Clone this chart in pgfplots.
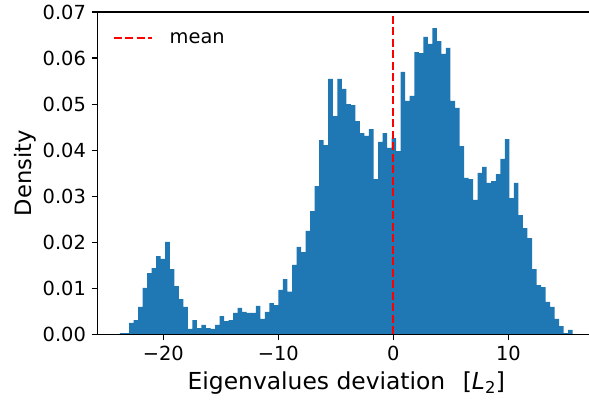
\documentclass[border=0pt]{standalone}
\usepackage{fontspec}
\setmainfont{DejaVu Sans}
\usepackage{pgfplots}
\pgfplotsset{compat=1.18}
\definecolor{mplblue}{HTML}{1F77B4}
\begin{document}
\begin{tikzpicture}
\begin{axis}[
  name=ax,
  at={(0,0)}, anchor=south west,
  scale only axis,
  width=498.1pt, height=322.5pt,
  xmin=-25.74, xmax=17.57, ymin=0, ymax=0.07,
  scaled y ticks=false, scaled x ticks=false,
  axis on top,
  axis line style={line width=1.2pt},
  every tick/.style={black, line width=1.2pt},
  tick align=outside,
  xtick pos=bottom, ytick pos=left,
  major tick length=5.6pt,
  xtick={-20,-10,0,10},
  xticklabels={−20,−10,0,10},
  ytick={0,0.01,0.02,0.03,0.04,0.05,0.06,0.07},
  yticklabels={0.00,0.01,0.02,0.03,0.04,0.05,0.06,0.07},
  tick label style={font=\fontsize{19.4}{23}\selectfont},
  xticklabel style={inner sep=0pt, anchor=north, yshift=-5.6pt},
  yticklabel style={inner sep=0pt, anchor=east, xshift=-5.6pt},
  xlabel={Eigenvalues deviation\hspace{0.75em}[{\itshape L}\textsubscript{2}]},
  ylabel={Density},
  every axis x label/.style={at={(rel axis cs:0.5,0)}, anchor=base, yshift=-55.5pt, font=\fontsize{23.4}{27}\selectfont},
  every axis y label/.style={at={(rel axis cs:0,0.5)}, xshift=-66pt, rotate=90, anchor=base, font=\fontsize{22.6}{27}\selectfont},
  legend style={draw=none, fill=none, at={(rel axis cs:0,1)}, anchor=north west, xshift=12pt, yshift=-16pt, column sep=15pt, font=\fontsize{19.4}{23}\selectfont},
  legend image code/.code={\draw[#1] (0pt,0pt) -- (38pt,0pt);},
  legend cell align=left,
]
\addplot[ybar interval, fill=mplblue, draw=none, forget plot] coordinates {
(-23.770,0.0003) (-23.376,0.0003) (-22.983,0.0025) (-22.589,0.0031) (-22.195,0.0060)
(-21.802,0.0101) (-21.408,0.0133) (-21.014,0.0144) (-20.620,0.0170) (-20.227,0.0164)
(-19.833,0.0201) (-19.439,0.0142) (-19.046,0.0105) (-18.652,0.0077) (-18.258,0.0060)
(-17.865,0.0012) (-17.471,0.0031) (-17.077,0.0014) (-16.683,0.0021) (-16.290,0.0014)
(-15.896,0.0012) (-15.502,0.0021) (-15.109,0.0040) (-14.715,0.0029) (-14.321,0.0031)
(-13.928,0.0047) (-13.534,0.0058) (-13.140,0.0049) (-12.746,0.0047) (-12.353,0.0047)
(-11.959,0.0062) (-11.565,0.0034) (-11.172,0.0049) (-10.778,0.0068) (-10.384,0.0064)
(-9.991,0.0097) (-9.597,0.0120) (-9.203,0.0093) (-8.809,0.0151) (-8.416,0.0190)
(-8.022,0.0179) (-7.628,0.0225) (-7.235,0.0268) (-6.841,0.0322) (-6.447,0.0422)
(-6.054,0.0411) (-5.660,0.0555) (-5.266,0.0474) (-4.872,0.0555) (-4.479,0.0533)
(-4.085,0.0500) (-3.691,0.0498) (-3.298,0.0463) (-2.904,0.0437) (-2.510,0.0431)
(-2.117,0.0446) (-1.723,0.0337) (-1.329,0.0418) (-0.935,0.0437) (-0.542,0.0405)
(-0.148,0.0426) (0.246,0.0398) (0.639,0.0570) (1.033,0.0507) (1.427,0.0518)
(1.820,0.0613) (2.214,0.0611) (2.608,0.0646) (3.002,0.0631) (3.395,0.0665)
(3.789,0.0637) (4.183,0.0609) (4.576,0.0622) (4.970,0.0507) (5.364,0.0492)
(5.757,0.0409) (6.151,0.0340) (6.545,0.0337) (6.939,0.0292) (7.332,0.0351)
(7.726,0.0364) (8.120,0.0329) (8.513,0.0333) (8.907,0.0348) (9.301,0.0381)
(9.694,0.0424) (10.088,0.0296) (10.482,0.0329) (10.876,0.0259) (11.269,0.0231)
(11.663,0.0209) (12.057,0.0142) (12.450,0.0107) (12.844,0.0103) (13.238,0.0071)
(13.631,0.0060) (14.025,0.0034) (14.419,0.0018) (14.813,0.0003) (15.206,0.0010)
(15.600,0.0010)
};
\addplot[red, line width=2.2pt, dash pattern=on 8pt off 3.5pt] coordinates {(0,0) (0,0.07)};
\addlegendentry{mean}
\end{axis}
\pgfresetboundingbox
\useasboundingbox (-97.3pt,-68.5pt) rectangle (491.7pt,334.5pt);
\end{tikzpicture}
\end{document}
